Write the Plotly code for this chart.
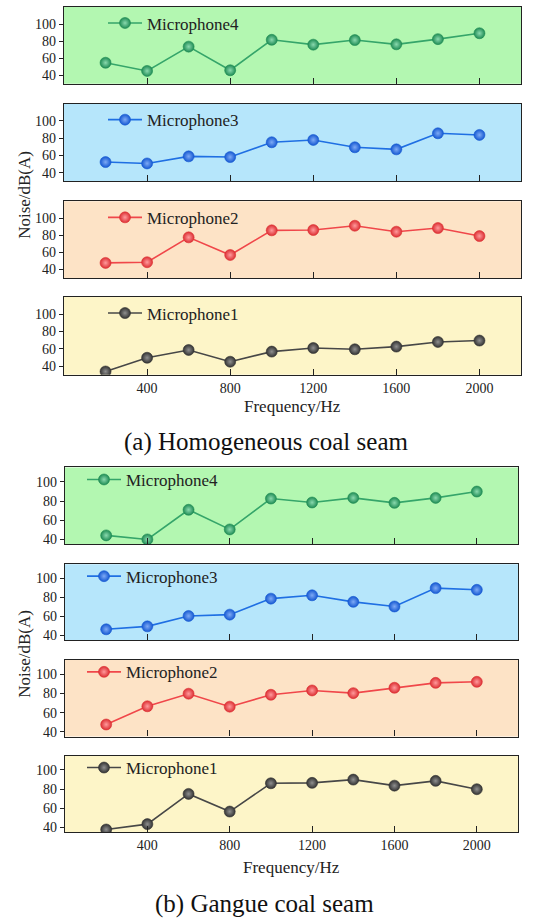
import plotly.graph_objects as go

# Frequency bands (Hz)
freq = [200, 400, 600, 800, 1000, 1200, 1400, 1600, 1800, 2000]
x_ticks = [400, 800, 1200, 1600, 2000]
y_ticks = [40, 60, 80, 100]

# (a) Homogeneous coal seam, noise in dB(A)
homo_mic4 = [54.6, 45.0, 73.5, 45.8, 81.5, 75.8, 81.2, 76.2, 82.3, 89.2]
homo_mic3 = [52.4, 50.8, 59.0, 58.2, 75.3, 78.0, 69.5, 67.1, 85.7, 83.8]
homo_mic2 = [47.8, 48.6, 77.8, 57.1, 86.0, 86.4, 91.4, 84.4, 88.7, 79.3]
homo_mic1 = [33.8, 49.7, 58.7, 45.1, 56.8, 61.0, 59.5, 62.6, 68.0, 69.6]

# (b) Gangue coal seam, noise in dB(A)
gangue_mic4 = [44.2, 40.0, 70.9, 50.4, 82.6, 78.5, 83.3, 78.1, 83.3, 89.9]
gangue_mic3 = [46.2, 49.3, 60.3, 61.7, 78.6, 82.1, 75.2, 70.3, 89.7, 87.9]
gangue_mic2 = [47.6, 66.6, 79.7, 66.2, 78.6, 83.1, 80.3, 85.9, 91.0, 92.1]
gangue_mic1 = [37.9, 43.5, 75.0, 56.6, 86.1, 86.5, 89.9, 83.6, 88.6, 79.9]

names = ["Microphone4", "Microphone3", "Microphone2", "Microphone1"]
captions = ["(a) Homogeneous coal seam", "(b) Gangue coal seam"]

W, H = 551, 921
FONT = "Liberation Serif, Times New Roman, serif"

# per-panel styling: line colour, marker edge, marker highlight, background
styles = [
    ("#35a56a", "#1f8c54", "#8ad9ae", "#b3f7b1"),
    ("#1f6fe3", "#1659d2", "#7eaaf5", "#b6e6fb"),
    ("#f0474a", "#dc2f33", "#ff9a9c", "#fde3c6"),
    ("#474747", "#333333", "#8f8f8f", "#fdf5c8"),
]

groups = [
    dict(series=[homo_mic4, homo_mic3, homo_mic2, homo_mic1],
         tops=[7, 104, 202, 298], bots=[84, 182, 279, 376],
         xl=64, xr=521, yrange=[30, 120], leg_dy=16.5, leg_x=103,
         xtitle_y=408, cap_y=443),
    dict(series=[gangue_mic4, gangue_mic3, gangue_mic2, gangue_mic1],
         tops=[469, 566, 662, 758], bots=[546, 642, 739, 835],
         xl=65, xr=518, yrange=[35, 115], leg_dy=12.5, leg_x=82,
         xtitle_y=870, cap_y=907),
]


def px_x(p):
    return p / W


def px_y(p):
    return 1 - p / H


fig = go.Figure()
layout = dict(
    width=W, height=H,
    margin=dict(l=0, r=0, t=0, b=0),
    paper_bgcolor="white",
    plot_bgcolor="rgba(0,0,0,0)",
    font=dict(family=FONT, color="#222"),
    showlegend=True,
    shapes=[], annotations=[],
)

n = 0
for gi, g in enumerate(groups):
    for i in range(4):
        n += 1
        xa = f"xaxis{n}" if n > 1 else "xaxis"
        ya = f"yaxis{n}" if n > 1 else "yaxis"
        xr = f"x{n}" if n > 1 else "x"
        yr = f"y{n}" if n > 1 else "y"
        lg = f"legend{n}" if n > 1 else "legend"
        line_c, edge_c, hi_c, bg_c = styles[i]
        bottom = i == 3

        fig.add_trace(go.Scatter(
            x=freq, y=g["series"][i], name=names[i],
            mode="lines+markers", xaxis=xr, yaxis=yr, legend=lg,
            showlegend=True,
            line=dict(color=line_c, width=1.6),
            marker=dict(size=11, color=edge_c,
                        gradient=dict(type="radial", color=hi_c),
                        line=dict(width=0.6, color=edge_c)),
        ))

        layout[xa] = dict(
            domain=[px_x(g["xl"]), px_x(g["xr"])], anchor=yr,
            range=[0, 2200], tickvals=x_ticks, ticks="inside", ticklen=6,
            tickwidth=1.2, tickcolor="#222",
            showticklabels=bottom, tickfont=dict(size=14, family=FONT),
            showline=True, mirror=True, linecolor="#222", linewidth=1.2,
            showgrid=False, zeroline=False,
        )
        layout[ya] = dict(
            domain=[px_y(g["bots"][i]), px_y(g["tops"][i])], anchor=xr,
            range=g["yrange"], tickvals=y_ticks, ticks="outside", ticklen=4,
            tickwidth=1.2, tickcolor="#222",
            tickfont=dict(size=14, family=FONT),
            showline=True, mirror=True, linecolor="#222", linewidth=1.2,
            showgrid=False, zeroline=False,
        )
        layout[lg] = dict(
            x=px_x(g["leg_x"]), xanchor="left",
            y=px_y(g["tops"][i] + g["leg_dy"]), yanchor="middle",
            bgcolor="rgba(0,0,0,0)", borderwidth=0,
            font=dict(size=17, family=FONT, color="#222"),
            itemwidth=34,
        )
        layout["shapes"].append(dict(
            type="rect", xref=f"{xr} domain", yref=f"{yr} domain",
            x0=0, x1=1, y0=0, y1=1, fillcolor=bg_c, line=dict(width=0),
            layer="below",
        ))

    # shared axis titles and caption
    mid = (g["tops"][0] + g["bots"][3]) / 2 + 4
    layout["annotations"].append(dict(
        text="Noise/dB(A)", textangle=-90, x=px_x(25), y=px_y(mid),
        xref="paper", yref="paper", showarrow=False,
        font=dict(size=17, family=FONT, color="#222"),
        xanchor="center", yanchor="middle",
    ))
    layout["annotations"].append(dict(
        text="Frequency/Hz", x=px_x((g["xl"] + g["xr"]) / 2), y=px_y(g["xtitle_y"]),
        xref="paper", yref="paper", showarrow=False,
        font=dict(size=17, family=FONT, color="#222"),
        xanchor="center", yanchor="middle",
    ))
    layout["annotations"].append(dict(
        text=captions[gi], x=px_x((g["xl"] + g["xr"]) / 2 - 27),
        y=px_y(g["cap_y"]),
        xref="paper", yref="paper", showarrow=False,
        font=dict(size=25, family=FONT, color="#111"),
        xanchor="center", yanchor="middle",
    ))

fig.update_layout(**layout)
fig.write_html("out.html")
